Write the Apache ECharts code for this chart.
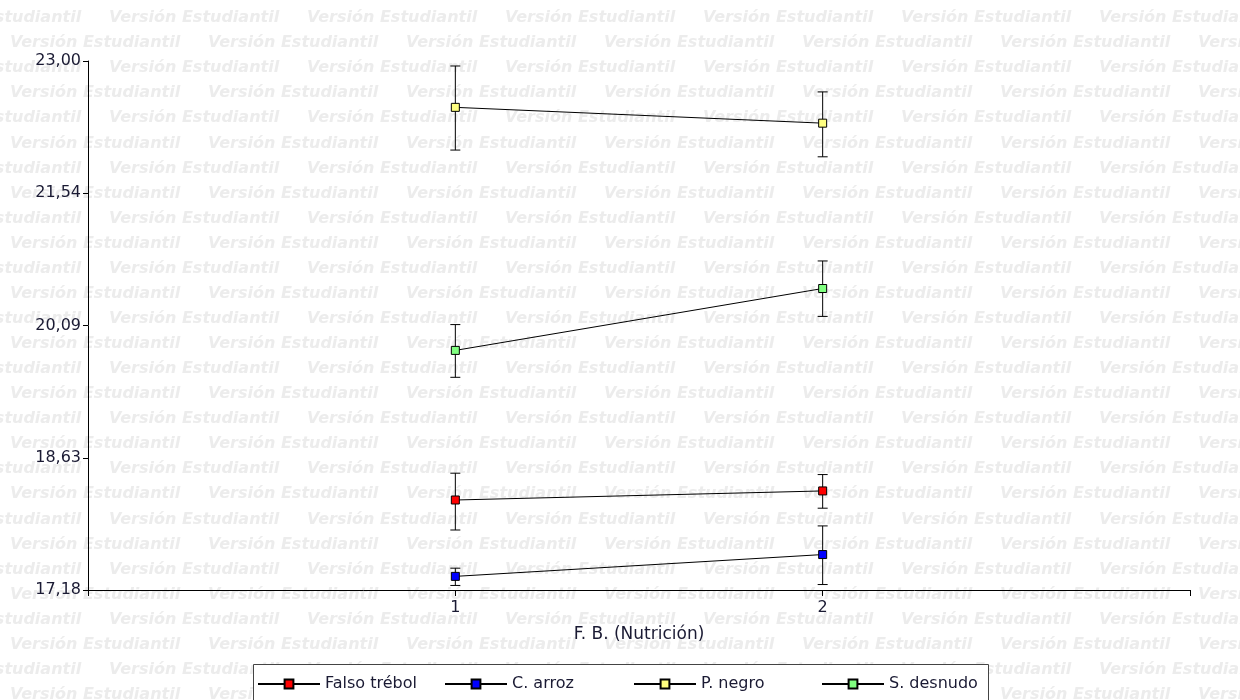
<!DOCTYPE html>
<html>
<head>
<meta charset="utf-8">
<script src="https://cdn.jsdelivr.net/npm/echarts@6/dist/echarts.min.js"></script>
<style>html,body{margin:0;padding:0;background:#fff}#c{width:1240px;height:700px}</style>
</head>
<body>
<div id="c"></div>
<script>
// ---- data ----
const xCategories = [1, 2];
const seriesNames = ['Falso trébol', 'C. arroz', 'P. negro', 'S. desnudo'];
const seriesColors = ['#ff0000', '#0000ff', '#ffff80', '#80ff80'];
const falsoTrebolMean = [18.17, 18.27];
const falsoTrebolLow  = [17.84, 18.08];
const falsoTrebolHigh = [18.465, 18.45];
const cArrozMean = [17.33, 17.57];
const cArrozLow  = [17.23, 17.24];
const cArrozHigh = [17.42, 17.885];
const pNegroMean = [22.49, 22.316];
const pNegroLow  = [22.02, 21.946];
const pNegroHigh = [22.945, 22.66];
const sDesnudoMean = [19.816, 20.497];
const sDesnudoLow  = [19.52, 20.19];
const sDesnudoHigh = [20.10, 20.80];
const yTickLabels = ['17,18', '18,63', '20,09', '21,54', '23,00'];
const Y_BASE = 17.18;      // axis origin value
const Y_STEP = 1.455;      // tick step
const xAxisName = 'F. B. (Nutrición)';
const watermarkText = 'Versión Estudiantil';

const means = [falsoTrebolMean, cArrozMean, pNegroMean, sDesnudoMean];
const lows = [falsoTrebolLow, cArrozLow, pNegroLow, sDesnudoLow];
const highs = [falsoTrebolHigh, cArrozHigh, pNegroHigh, sDesnudoHigh];

const FONT = "'DejaVu Sans', Arial, sans-serif";
const TXT = '#1a1a33';

// watermark
const wm = [];
for (let r = 0; r < 28; r++) {
  const y = 18 + r * 25.07;
  const x0 = (r % 2 === 1) ? 10 : -89;
  for (let k = 0; k < 8; k++) {
    wm.push({
      type: 'text', silent: true, z: -5,
      x: x0 + k * 198, y: y,
      style: { text: watermarkText, fill: '#ececec', font: "italic bold 16px 'DejaVu Sans', Arial, sans-serif", align: 'left', verticalAlign: 'middle' }
    });
  }
}
wm.push({ type: 'rect', z: 1, silent: true, shape: { x: 253.5, y: 664.5, width: 735, height: 60 }, style: { fill: '#ffffff', stroke: '#444', lineWidth: 1 } });

const series = [];
seriesNames.forEach((name, i) => {
  series.push({
    name: name, type: 'line', z: 4,
    data: xCategories.map((x, j) => [x, means[i][j] - Y_BASE]),
    symbol: 'rect', symbolSize: 8,
    lineStyle: { color: '#000', width: 1 },
    itemStyle: { color: seriesColors[i], borderColor: '#000', borderWidth: 1 },
    emphasis: { disabled: true }, animation: false
  });
  series.push({
    name: name + ' err', type: 'custom', z: 3,
    data: xCategories.map((x, j) => [x, lows[i][j] - Y_BASE, highs[i][j] - Y_BASE]),
    renderItem: function (params, api) {
      const x = api.value(0);
      const lo = api.coord([x, api.value(1)]);
      const hi = api.coord([x, api.value(2)]);
      const w = 5;
      const st = { stroke: '#000', lineWidth: 1 };
      return { type: 'group', children: [
        { type: 'line', shape: { x1: lo[0], y1: lo[1], x2: hi[0], y2: hi[1] }, style: st },
        { type: 'line', shape: { x1: lo[0] - w, y1: lo[1], x2: lo[0] + w, y2: lo[1] }, style: st },
        { type: 'line', shape: { x1: hi[0] - w, y1: hi[1], x2: hi[0] + w, y2: hi[1] }, style: st }
      ]};
    },
    animation: false
  });
});

const legendLefts = [257, 444, 633, 821];
const legends = seriesNames.map((name, i) => ({
  data: [name], left: legendLefts[i], top: 676, orient: 'horizontal',
  itemWidth: 62, itemHeight: 11, padding: 0, selectedMode: false,
  textStyle: { color: TXT, fontSize: 16, fontFamily: FONT }
}));

const chart = echarts.init(document.getElementById('c'), null, { renderer: 'canvas' });
chart.setOption({
  animation: false,
  backgroundColor: '#fff',
  graphic: { elements: wm },
  grid: { left: 88, right: 50, top: 61, bottom: 110, containLabel: false, outerBoundsMode: 'none' },
  xAxis: {
    type: 'value', min: 0, max: 3, interval: 1,
    name: xAxisName, nameLocation: 'middle', nameGap: 36,
    nameTextStyle: { color: TXT, fontSize: 17, fontFamily: FONT },
    axisLine: { show: true, onZero: false, lineStyle: { color: '#000', width: 1 } },
    axisTick: { show: true, length: 6, lineStyle: { color: '#000' } },
    axisLabel: { color: TXT, fontSize: 16, fontFamily: FONT, margin: 10,
      formatter: v => (xCategories.indexOf(v) >= 0 ? String(v) : '') },
    splitLine: { show: false }
  },
  yAxis: {
    type: 'value', min: 0, max: Y_STEP * 4, interval: Y_STEP,
    axisLine: { show: true, lineStyle: { color: '#000', width: 1 } },
    axisTick: { show: true, length: 5, lineStyle: { color: '#000' } },
    axisLabel: { color: TXT, fontSize: 16, fontFamily: FONT, margin: 7,
      formatter: v => yTickLabels[Math.round(v / Y_STEP)] },
    splitLine: { show: false }
  },
  legend: legends,
  series: series
});
</script>
</body>
</html>
